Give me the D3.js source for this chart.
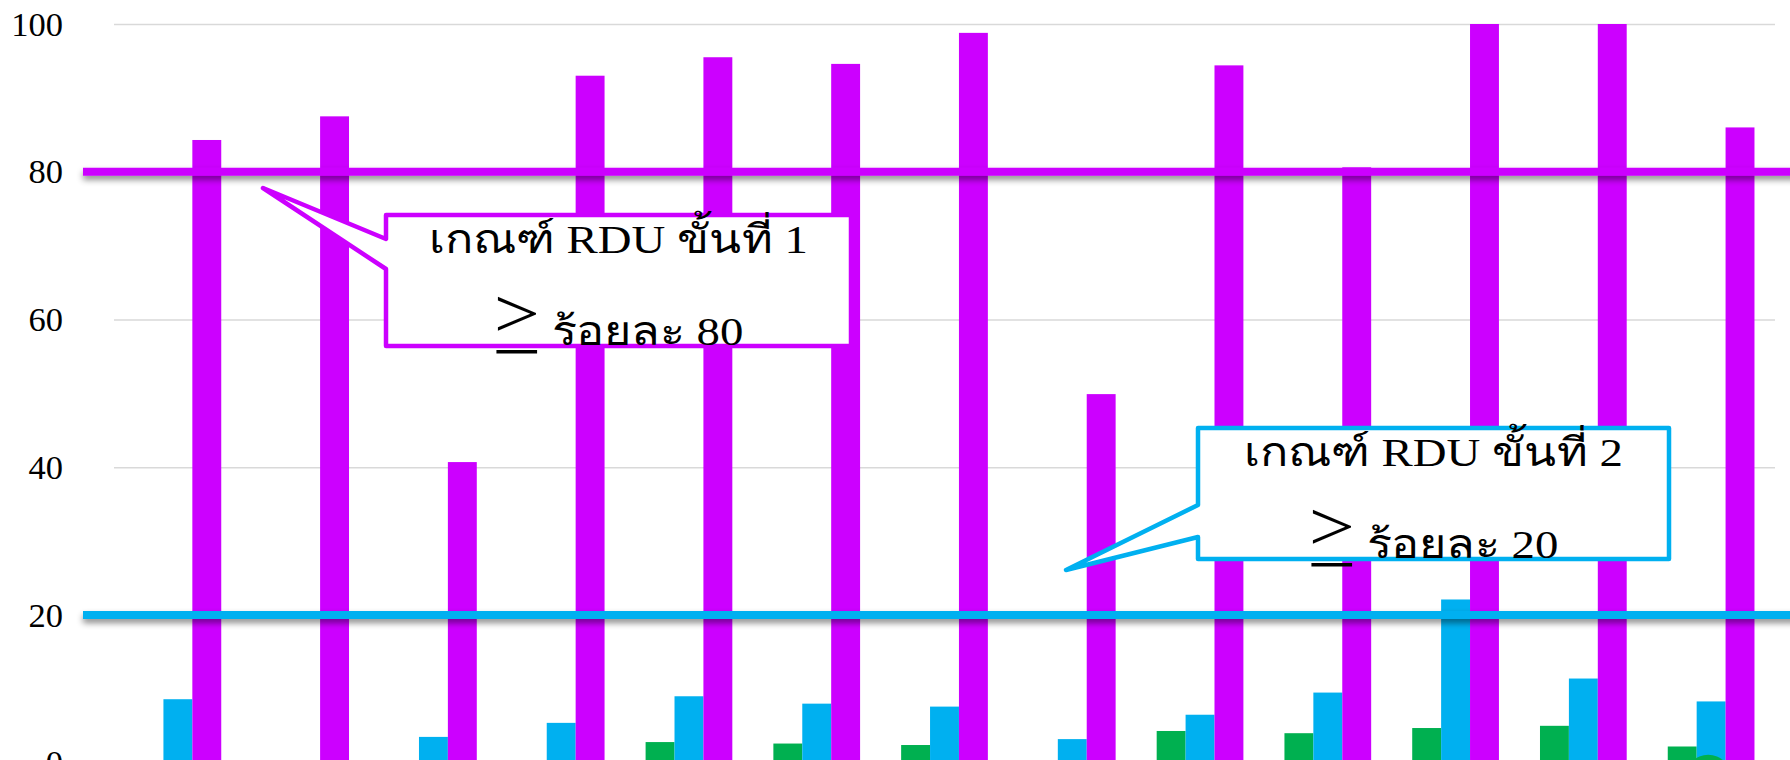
<!DOCTYPE html>
<html>
<head>
<meta charset="utf-8">
<script src="https://cdn.jsdelivr.net/npm/d3@7"></script>
<style>
  html, body { margin: 0; padding: 0; background: #fff; overflow: hidden; }
  svg { display: block; }
</style>
</head>
<body>
<svg id="chart" width="1790" height="760"></svg>
<script>
// Hospitals (x categories) and the share of prescriptions per RDU stage, in percent
const categories = ["1", "2", "3", "4", "5", "6", "7", "8", "9", "10", "11", "12", "13"];
const seriesKeys = ["stage3", "stage2", "stage1"];
const stage3 = [0, 0, 0, 0, 2.8, 2.6, 2.4, 0, 4.3, 4.0, 4.7, 5.0, 2.2];
const stage2 = [8.6, 0, 3.5, 5.4, 9.0, 8.0, 7.6, 3.2, 6.5, 9.5, 22.1, 11.4, 8.3];
const stage1 = [84.3, 87.5, 40.7, 93.0, 95.5, 94.6, 98.8, 49.9, 94.4, 80.6, 100, 100, 86.0];
const yTicks = [0, 20, 40, 60, 80, 100];

// Target lines and their callout texts
const thresholdValues = [80, 20];
const calloutTitles = ["เกณฑ์ RDU ขั้นที่ 1", "เกณฑ์ RDU ขั้นที่ 2"];
const calloutSymbol = ">";
const calloutCriteria = ["ร้อยละ 80", "ร้อยละ 20"];

const colors = { stage3: "#00B050", stage2: "#00B0F0", stage1: "#CC00FF" };
const thresholdColors = [colors.stage1, colors.stage2];

const seriesData = { stage3, stage2, stage1 };
const rows = categories.map((c, i) => ({
  category: c,
  values: seriesKeys.map(k => ({ key: k, value: seriesData[k][i] }))
}));

const svg = d3.select("#chart");
const W = 1790, H = 760;
const plot = { left: 114, right: 1775, top: 24, bottom: 762.75 };

const x0 = d3.scaleBand().domain(categories).range([plot.left, plot.right]).paddingInner(0).paddingOuter(0);
const x1 = d3.scaleBand().domain(seriesKeys).range([0, x0.bandwidth()]).paddingInner(0).paddingOuter(0.71);
const y = d3.scaleLinear().domain([0, 100]).range([plot.bottom, plot.top]);

const serif = "'Liberation Serif', 'Times New Roman', 'DejaVu Serif', serif";

// drop shadow used by the target lines (user-space region: the lines have no height)
const defs = svg.append("defs");
const shadow = defs.append("filter").attr("id", "lineShadow")
  .attr("filterUnits", "userSpaceOnUse")
  .attr("x", 0).attr("y", 0).attr("width", W + 20).attr("height", H + 20);
shadow.append("feDropShadow").attr("dx", 0).attr("dy", 4).attr("stdDeviation", 3)
  .attr("flood-color", "#000").attr("flood-opacity", 0.45);

// horizontal gridlines
svg.append("g")
  .attr("transform", `translate(${plot.left},0)`)
  .call(d3.axisLeft(y).tickValues(yTicks).tickSize(-(plot.right - plot.left)).tickFormat(""))
  .call(g => g.select(".domain").remove())
  .call(g => g.selectAll(".tick line").attr("stroke", "#d9d9d9").attr("stroke-width", 1.5));

// y-axis labels
svg.append("g")
  .attr("transform", `translate(${plot.left},0)`)
  .call(d3.axisLeft(y).tickValues(yTicks).tickSize(0).tickPadding(51))
  .call(g => g.select(".domain").remove())
  .call(g => g.selectAll("text")
    .attr("font-family", serif).attr("font-size", 34.5).attr("fill", "#000"));

// clustered bars
const groups = svg.append("g").selectAll("g").data(rows).join("g")
  .attr("transform", d => `translate(${x0(d.category)},0)`);
groups.selectAll("rect").data(d => d.values).join("rect")
  .attr("x", d => x1(d.key))
  .attr("width", x1.bandwidth())
  .attr("y", d => y(d.value))
  .attr("height", d => y(0) - y(d.value))
  .attr("fill", d => colors[d.key]);

// target lines
svg.append("g").selectAll("line").data(thresholdValues).join("line")
  .attr("x1", 83).attr("x2", W + 10)
  .attr("y1", d => y(d)).attr("y2", d => y(d))
  .attr("stroke", (d, i) => thresholdColors[i])
  .attr("stroke-width", 8)
  .attr("filter", "url(#lineShadow)");

// callout boxes with pointer
const callouts = [
  { box: [386, 215, 851, 346], base: [269, 239], tip: [263, 188] },
  { box: [1198, 428, 1669, 559], base: [537, 505], tip: [1066, 570] }
];
const textSize = 40, textStretch = 1.17;
callouts.forEach((c, i) => {
  const [bx0, by0, bx1, by1] = c.box;
  const p = d3.path();
  p.moveTo(bx0, by0);
  p.lineTo(bx1, by0);
  p.lineTo(bx1, by1);
  p.lineTo(bx0, by1);
  p.lineTo(bx0, c.base[0]);
  p.lineTo(c.tip[0], c.tip[1]);
  p.lineTo(bx0, c.base[1]);
  p.closePath();
  const g = svg.append("g");
  g.append("path").attr("d", p.toString())
    .attr("fill", "#fff")
    .attr("stroke", thresholdColors[i])
    .attr("stroke-width", 4.5)
    .attr("stroke-linejoin", "round");
  const cx = (bx0 + bx1) / 2;

  g.append("g")
    .attr("transform", `translate(${cx},${by0 + 38}) scale(${textStretch},1)`)
    .append("text")
    .attr("text-anchor", "middle")
    .attr("font-family", serif).attr("font-size", textSize).attr("fill", "#000")
    .text(calloutTitles[i]);

  const l2 = g.append("g")
    .attr("transform", `translate(${cx},${by0 + 130}) scale(${textStretch},1)`);
  const t2 = l2.append("text")
    .attr("text-anchor", "middle")
    .attr("font-family", serif).attr("font-size", textSize).attr("fill", "#000");
  t2.append("tspan").attr("font-size", 70).attr("dy", -8).text(calloutSymbol);
  t2.append("tspan").attr("dy", 8).text(" " + calloutCriteria[i]);
  // bar under the ">" sign, sized from the glyph
  const ext = t2.node().getExtentOfChar(0);
  l2.append("rect")
    .attr("x", ext.x + ext.width * 0.06).attr("width", ext.width * 0.88)
    .attr("y", 5).attr("height", 3.5)
    .attr("fill", "#000");
});

// round green marker at the lower right
svg.append("circle")
  .attr("cx", x0(categories[12]) + x1("stage2") + x1.bandwidth() * 0.4)
  .attr("cy", y(0) + 15).attr("r", 23)
  .attr("fill", colors.stage3);
</script>
</body>
</html>
